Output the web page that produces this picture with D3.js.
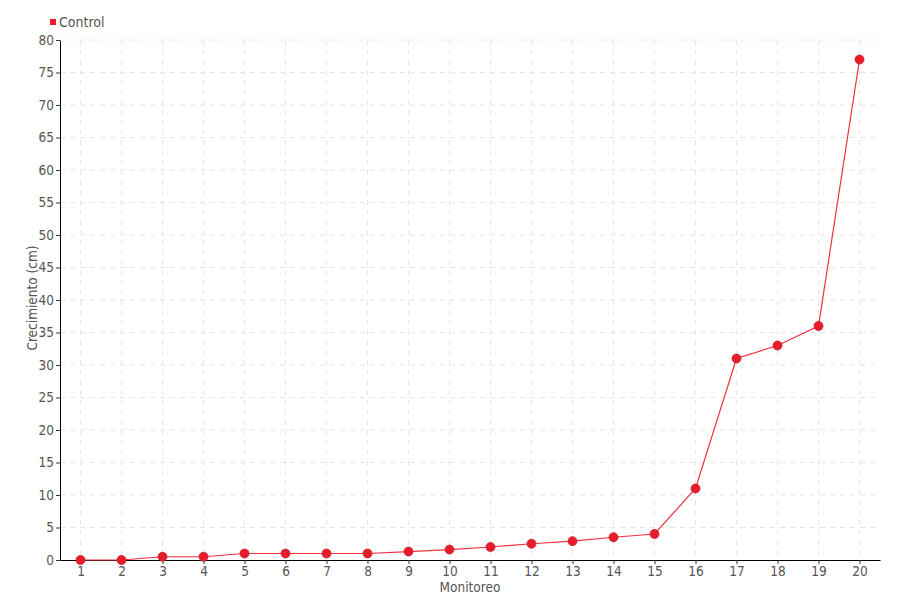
<!DOCTYPE html>
<html>
<head>
<meta charset="utf-8">
<script src="https://cdn.jsdelivr.net/npm/d3@7"></script>
<style>
  body { margin: 0; background: #fff; }
  text { font-family: "DejaVu Sans Condensed", "DejaVu Sans", sans-serif; font-stretch: condensed; fill: #555; }
</style>
</head>
<body>
<script>
// chart data
var monitoreo = ["1","2","3","4","5","6","7","8","9","10","11","12","13","14","15","16","17","18","19","20"];
var control = [0, 0, 0.5, 0.5, 1, 1, 1, 1, 1.3, 1.6, 2, 2.5, 2.9, 3.5, 4, 11, 31, 33, 36, 77];
var yTicks = [0,5,10,15,20,25,30,35,40,45,50,55,60,65,70,75,80];

var margin = {top: 40, right: 20, bottom: 40, left: 60},
    width = 900 - margin.left - margin.right,
    height = 600 - margin.top - margin.bottom;

var svg = d3.select("body").append("svg")
    .attr("width", 900)
    .attr("height", 600);

var g = svg.append("g")
    .attr("transform", "translate(" + margin.left + "," + margin.top + ")");

var x = d3.scalePoint().domain(monitoreo).range([0, width]).padding(0.5);
var y = d3.scaleLinear().domain([0, 80]).range([height, 0]);

// grid
g.selectAll(".hgrid").data(yTicks.slice(1)).enter().append("line")
    .attr("x1", 0).attr("x2", width)
    .attr("y1", d => y(d)).attr("y2", d => y(d))
    .style("stroke", "#e6e6e6").style("stroke-dasharray", "5,5");
g.selectAll(".vgrid").data(monitoreo).enter().append("line")
    .attr("x1", d => x(d)).attr("x2", d => x(d))
    .attr("y1", 0).attr("y2", height)
    .style("stroke", "#e6e6e6").style("stroke-dasharray", "5,5");

// axes
var xAxis = g.append("g")
    .attr("transform", "translate(0," + height + ")")
    .call(d3.axisBottom(x).tickSize(4).tickPadding(2).tickSizeOuter(0));
var yAxis = g.append("g")
    .call(d3.axisLeft(y).tickValues(yTicks).tickSize(4).tickPadding(2).tickSizeOuter(0));
[xAxis, yAxis].forEach(function(a) {
  a.attr("font-family", null).attr("font-size", null);
  a.selectAll("text").style("font-size", "13.5px").style("fill", "#555");
  a.select(".domain").style("stroke", "#000");
  a.selectAll(".tick line").style("stroke", "#333");
});

// line
var line = d3.line()
    .x((d, i) => x(monitoreo[i]))
    .y(d => y(d));
g.append("path")
    .datum(control)
    .attr("d", line)
    .style("fill", "none")
    .style("stroke", "#f0303f")
    .style("stroke-width", 1.2);

g.selectAll(".dot").data(control).enter().append("circle")
    .attr("cx", (d, i) => x(monitoreo[i]))
    .attr("cy", d => y(d))
    .attr("r", 4.5)
    .style("fill", "#e81c2a")
    .style("stroke", "#c8202a")
    .style("stroke-width", 0.8);

// labels
svg.append("text")
    .attr("text-anchor", "middle")
    .attr("transform", "translate(37," + (margin.top + height / 2 - 2) + ")rotate(-90)")
    .style("font-size", "13.5px")
    .text("Crecimiento (cm)");

svg.append("text")
    .attr("x", margin.left + width / 2)
    .attr("y", 592)
    .attr("text-anchor", "middle")
    .style("font-size", "13.5px")
    .text("Monitoreo");

// legend
svg.append("rect")
    .attr("x", 50).attr("y", 19).attr("width", 6).attr("height", 6)
    .style("fill", "#ec1c2c");
svg.append("text")
    .attr("x", 59).attr("y", 27)
    .style("font-size", "14px")
    .text("Control");
</script>
</body>
</html>
